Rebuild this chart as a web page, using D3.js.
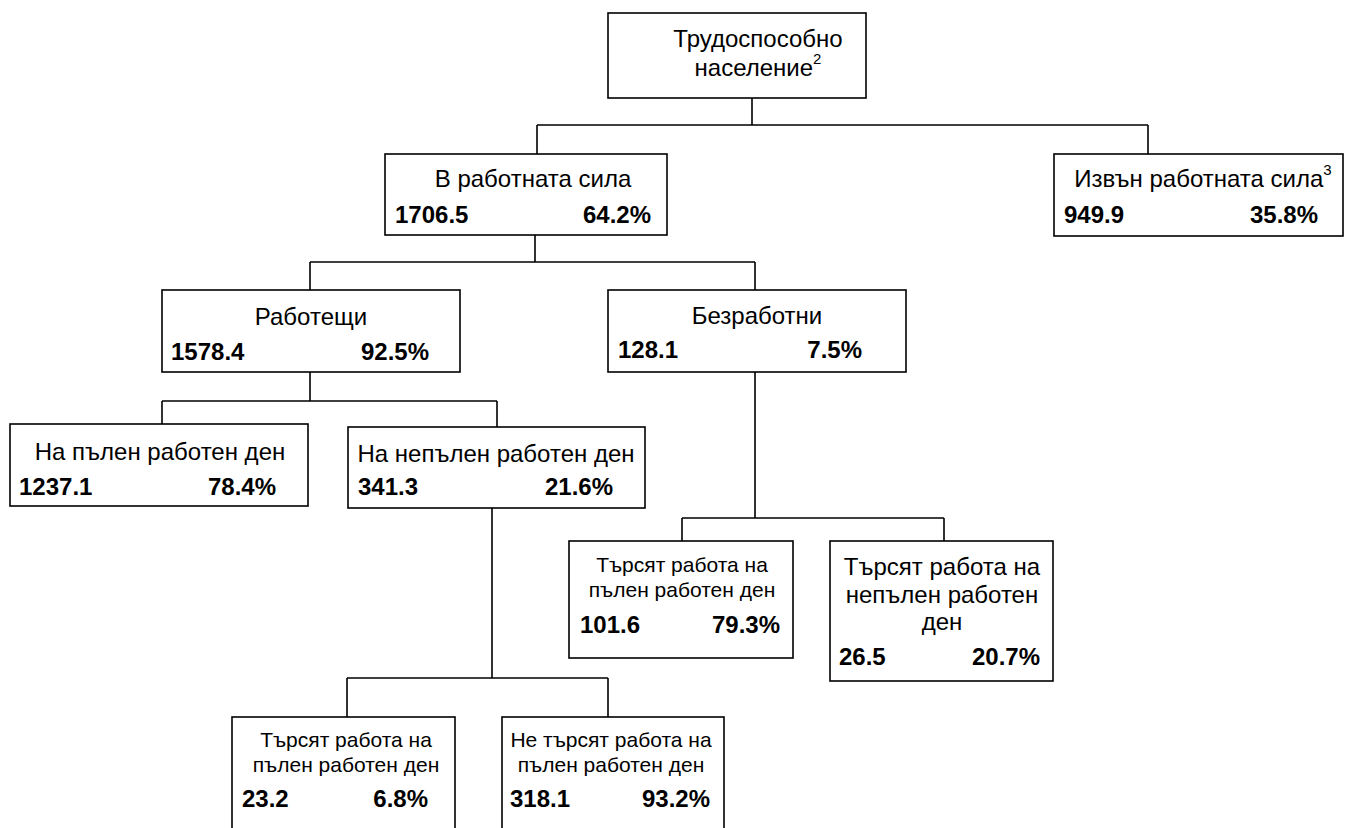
<!DOCTYPE html>
<html>
<head>
<meta charset="utf-8">
<script src="https://cdn.jsdelivr.net/npm/d3@7"></script>
<style>
  body { margin: 0; background: #fff; }
  svg text { font-family: Arial, "Liberation Sans", sans-serif; fill: #000; }
</style>
</head>
<body>
<div id="chart"></div>
<script>
// data (thousands and shares)
var ids = ["pop", "lf", "out", "emp", "unemp", "full", "part", "uFull", "uPart", "pFull", "pNot"];
var parents = [null, "pop", "pop", "lf", "lf", "emp", "emp", "unemp", "unemp", "part", "part"];
var labels = [
  ["Трудоспособно", "население"],
  ["В работната сила"],
  ["Извън работната сила"],
  ["Работещи"],
  ["Безработни"],
  ["На пълен работен ден"],
  ["На непълен работен ден"],
  ["Търсят работа на", "пълен работен ден"],
  ["Търсят работа на", "непълен работен", "ден"],
  ["Търсят работа на", "пълен работен ден"],
  ["Не търсят работа на", "пълен работен ден"]
];
var notes = ["2", "", "3", "", "", "", "", "", "", "", ""];
var values = [null, 1706.5, 949.9, 1578.4, 128.1, 1237.1, 341.3, 101.6, 26.5, 23.2, 318.1];
var shares = [null, 64.2, 35.8, 92.5, 7.5, 78.4, 21.6, 79.3, 20.7, 6.8, 93.2];

// layout of the boxes (pixels)
var layout = {
  pop:   {x: 608, y: 13,  w: 258, h: 85,  tx: 758,  ly: [47, 76],        fs: 24,   ny: null, nl: 0, nr: 0, stub: 752, bus: 125, drop: 0},
  lf:    {x: 385, y: 154, w: 282, h: 81,  tx: 533,  ly: [187],           fs: 24,   ny: 223, nl: 395, nr: 651, stub: 535, bus: 262, drop: 537},
  out:   {x: 1054, y: 154, w: 289, h: 82, tx: 1203, ly: [187],           fs: 24,   ny: 223, nl: 1064, nr: 1318, drop: 1148},
  emp:   {x: 162, y: 290, w: 298, h: 82,  tx: 311,  ly: [325],           fs: 24,   ny: 360, nl: 171, nr: 429, stub: 310, bus: 401, drop: 310},
  unemp: {x: 608, y: 290, w: 298, h: 82,  tx: 757,  ly: [324],           fs: 24,   ny: 358, nl: 618, nr: 862, stub: 755, bus: 518, drop: 755},
  full:  {x: 10,  y: 424, w: 298, h: 82,  tx: 160,  ly: [460],           fs: 24,   ny: 495, nl: 19,  nr: 276, drop: 162},
  part:  {x: 348, y: 427, w: 297, h: 81,  tx: 496,  ly: [462],           fs: 24,   ny: 495, nl: 358, nr: 613, stub: 492, bus: 678, drop: 497},
  uFull: {x: 569, y: 541, w: 224, h: 117, tx: 682,  ly: [572, 597],      fs: 21,   ny: 633, nl: 580, nr: 780, drop: 682},
  uPart: {x: 830, y: 541, w: 223, h: 140, tx: 942,  ly: [575, 603, 630], fs: 24,   ny: 665, nl: 839, nr: 1040, drop: 944},
  pFull: {x: 232, y: 717, w: 223, h: 130, tx: 346,  ly: [747, 772],      fs: 21,   ny: 807, nl: 242, nr: 428, drop: 347},
  pNot:  {x: 502, y: 717, w: 222, h: 130, tx: 611,  ly: [747, 772],      fs: 21,   ny: 807, nl: 510, nr: 710, drop: 608}
};

var svgWidth = 1345;
var svgHeight = 828;

var svg = d3.select("#chart")
  .append("svg")
  .attr("width", svgWidth)
  .attr("height", svgHeight);

var rows = ids.map(function(id, i) {
  return {id: id, parent: parents[i], label: labels[i], note: notes[i], value: values[i], share: shares[i]};
});

var root = d3.stratify()
  .id(function(d) { return d.id; })
  .parentId(function(d) { return d.parent; })(rows);

var fmt = d3.format(".1f");

// connectors: parent stub -> bus -> child drops
var links = svg.append("g")
  .attr("fill", "none")
  .attr("stroke", "#000")
  .attr("stroke-width", 1.6);

root.each(function(node) {
  if (!node.children) return;
  var p = layout[node.id];
  var drops = node.children.map(function(c) { return layout[c.id].drop; });
  var path = d3.path();
  path.moveTo(p.stub, p.y + p.h);
  path.lineTo(p.stub, p.bus);
  path.moveTo(d3.min(drops), p.bus);
  path.lineTo(d3.max(drops), p.bus);
  node.children.forEach(function(c) {
    var b = layout[c.id];
    path.moveTo(b.drop, p.bus);
    path.lineTo(b.drop, b.y);
  });
  links.append("path").attr("d", path.toString());
});

// boxes
var boxes = svg.selectAll("g.box")
  .data(root.descendants())
  .enter()
  .append("g")
  .attr("class", "box");

boxes.append("rect")
  .attr("x", function(d) { return layout[d.id].x; })
  .attr("y", function(d) { return layout[d.id].y; })
  .attr("width", function(d) { return layout[d.id].w; })
  .attr("height", function(d) { return layout[d.id].h; })
  .attr("fill", "#fff")
  .attr("stroke", "#000")
  .attr("stroke-width", 1.6);

boxes.each(function(d) {
  var g = d3.select(this);
  var L = layout[d.id];
  var lines = d.data.label;
  lines.forEach(function(line, i) {
    var t = g.append("text")
      .attr("x", L.tx)
      .attr("y", L.ly[i])
      .attr("text-anchor", "middle")
      .style("font-size", L.fs + "px");
    t.append("tspan").text(line);
    if (i === lines.length - 1 && d.data.note) {
      t.append("tspan")
        .attr("dy", -12)
        .style("font-size", "15px")
        .text(d.data.note);
    }
  });

  if (d.data.value != null) {
    g.append("text")
      .attr("x", L.nl)
      .attr("y", L.ny)
      .style("font-size", "24px")
      .style("font-weight", "bold")
      .text(fmt(d.data.value));
    g.append("text")
      .attr("x", L.nr)
      .attr("y", L.ny)
      .attr("text-anchor", "end")
      .style("font-size", "24px")
      .style("font-weight", "bold")
      .text(fmt(d.data.share) + "%");
  }
});
</script>
</body>
</html>
